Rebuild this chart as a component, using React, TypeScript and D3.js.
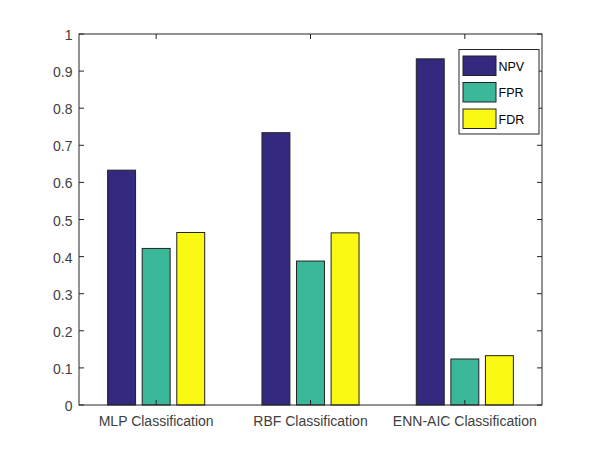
import React from "react";
import * as d3 from "d3";

const categories = ["MLP Classification", "RBF Classification", "ENN-AIC Classification"];
const seriesNames = ["NPV", "FPR", "FDR"];
const npv = [0.633, 0.734, 0.933];
const fpr = [0.422, 0.388, 0.124];
const fdr = [0.465, 0.464, 0.133];
const yTicks = [0, 0.1, 0.2, 0.3, 0.4, 0.5, 0.6, 0.7, 0.8, 0.9, 1];
const colors = ["#33297f", "#3bb89a", "#f9f914"];

export default function App() {
  const W = 600, H = 455;
  const L = 79, R = 542, T = 34, B = 405;
  const x = d3.scaleLinear().domain([0.5, 3.5]).range([L, R]);
  const y = d3.scaleLinear().domain([0, 1]).range([B, T]);
  const series = [npv, fpr, fdr];
  const unit = x(2) - x(1);
  const bw = 0.181 * unit;
  const step = 0.224 * unit;
  const font = "Helvetica, Arial, 'Liberation Sans', sans-serif";
  const tk = 5;
  const txt = "#404040";
  return (
    <svg width={W} height={H} style={{ position: "absolute", left: 0, top: 0, background: "#fff" }}>
      <rect x={0} y={0} width={W} height={H} fill="#fff" />
      {series.map((s, si) =>
        s.map((v, ci) => {
          const cx = x(ci + 1) + (si - 1) * step;
          return (
            <rect key={`${si}-${ci}`} x={cx - bw / 2} y={y(v)} width={bw} height={y(0) - y(v)}
              fill={colors[si]} stroke="#222" strokeWidth={1} />
          );
        })
      )}
      <rect x={L} y={T} width={R - L} height={B - T} fill="none" stroke="#262626" strokeWidth={1} />
      {yTicks.map((t) => (
        <g key={t}>
          <line x1={L} x2={L + tk} y1={y(t)} y2={y(t)} stroke="#262626" />
          <line x1={R} x2={R - tk} y1={y(t)} y2={y(t)} stroke="#262626" />
          <text x={L - 6.5} y={y(t) + 6} textAnchor="end" fontSize={14} fontFamily={font} fill={txt}>
            {String(t)}
          </text>
        </g>
      ))}
      {categories.map((c, i) => (
        <g key={c}>
          <line x1={x(i + 1)} x2={x(i + 1)} y1={B} y2={B - tk} stroke="#262626" />
          <line x1={x(i + 1)} x2={x(i + 1)} y1={T} y2={T + tk} stroke="#262626" />
          <text x={x(i + 1)} y={426} textAnchor="middle" fontSize={14} fontFamily={font} fill={txt}>
            {c}
          </text>
        </g>
      ))}
      <rect x={459} y={49.5} width={80} height={84.5} fill="#fff" stroke="#262626" strokeWidth={1} />
      {seriesNames.map((n, i) => (
        <g key={n}>
          <rect x={463} y={56 + i * 26.5} width={33} height={19.5} fill={colors[i]} stroke="#222" />
          <text x={498.5} y={70.5 + i * 26.5} fontSize={12.5} fontFamily={font} fill="#000">
            {n}
          </text>
        </g>
      ))}
    </svg>
  );
}
